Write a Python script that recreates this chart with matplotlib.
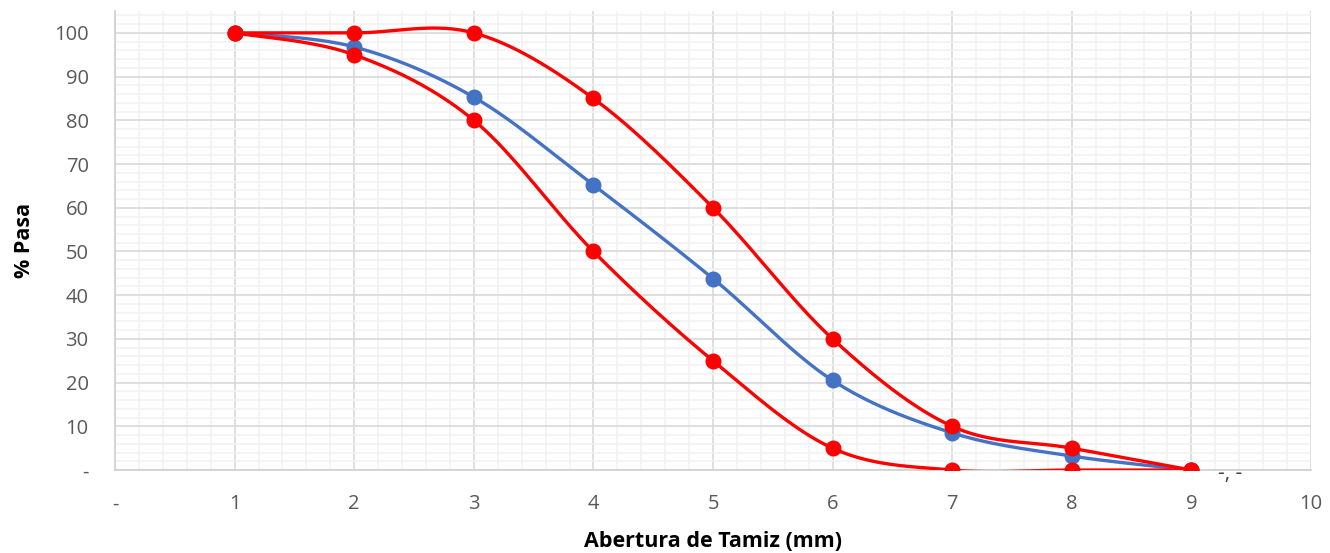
import numpy as np
import matplotlib
matplotlib.use("Agg")
import matplotlib.pyplot as plt
from matplotlib.ticker import MultipleLocator, FuncFormatter

# Sieve data
abertura = [1, 2, 3, 4, 5, 6, 7, 8, 9]
pasa_muestra = [100, 96.8, 85.3, 65.2, 43.8, 20.5, 8.5, 3.2, 0]
limite_superior = [100, 100, 100, 85, 60, 30, 10, 5, 0]
limite_inferior = [100, 95, 80, 50, 25, 5, 0, 0, 0]

plt.rcParams['font.family'] = ['Open Sans', 'DejaVu Sans']


# Excel-like smoothed line (Catmull-Rom style cubic Bezier)
def smooth(x, y, n=40):
    x = np.asarray(x, float)
    y = np.asarray(y, float)
    px = np.concatenate([[x[0]], x, [x[-1]]])
    py = np.concatenate([[y[0]], y, [y[-1]]])
    xs, ys = [], []
    t = np.linspace(0, 1, n)
    for i in range(1, len(px) - 2):
        p0 = np.array([px[i], py[i]])
        p3 = np.array([px[i + 1], py[i + 1]])
        b1 = p0 + (np.array([px[i + 1], py[i + 1]]) - np.array([px[i - 1], py[i - 1]])) / 6
        b2 = p3 - (np.array([px[i + 2], py[i + 2]]) - np.array([px[i], py[i]])) / 6
        pts = ((1 - t) ** 3)[:, None] * p0 + (3 * (1 - t) ** 2 * t)[:, None] * b1 \
            + (3 * (1 - t) * t ** 2)[:, None] * b2 + (t ** 3)[:, None] * p3
        xs.extend(pts[:, 0])
        ys.extend(pts[:, 1])
    return xs, ys


fig = plt.figure(figsize=(13.3, 5.53), dpi=100)
ax = fig.add_axes([0.0865, 0.150, 0.8992, 0.830])

series = [
    (pasa_muestra, '#4472C4'),
    (limite_superior, '#FF0000'),
    (limite_inferior, '#FF0000'),
]
for vals, col in series:
    sx, sy = smooth(abertura, vals)
    ax.plot(sx, sy, color=col, lw=2.4, zorder=3, solid_capstyle='round')
    ax.plot(abertura, vals, 'o', color=col, markersize=10.5, zorder=4)

ax.set_xlim(0, 10)
ax.set_ylim(0, 105)
ax.xaxis.set_major_locator(MultipleLocator(1))
ax.xaxis.set_minor_locator(MultipleLocator(0.2))
ax.yaxis.set_major_locator(MultipleLocator(10))
ax.yaxis.set_minor_locator(MultipleLocator(2))

fmt = FuncFormatter(lambda v, p: '-' if abs(v) < 1e-9 else '%d' % round(v))
ax.xaxis.set_major_formatter(fmt)
ax.yaxis.set_major_formatter(fmt)
ax.set_yticks([t for t in range(0, 101, 10)])

ax.grid(which='minor', color='#f2f2f2', lw=1.2, zorder=0)
ax.grid(which='major', color='#d9d9d9', lw=1.2, zorder=1)
ax.set_axisbelow(True)

for s in ['top', 'right']:
    ax.spines[s].set_visible(False)
for s in ['left', 'bottom']:
    ax.spines[s].set_color('#d0d0d0')
    ax.spines[s].set_linewidth(1.2)

ax.tick_params(which='both', length=0, labelsize=14.5, colors='#595959')
ax.tick_params(axis='x', pad=17.5)
ax.tick_params(axis='y', pad=19)

ax.set_xlabel('Abertura de Tamiz (mm)', fontsize=15.5, fontweight='bold', labelpad=12)
ax.set_ylabel('% Pasa', fontsize=15.5, fontweight='bold', labelpad=14)

ax.text(9.32, -2.1, '-, -', fontsize=15, color='#404040', ha='center', va='baseline')

fig.savefig('out.png', dpi=100)
